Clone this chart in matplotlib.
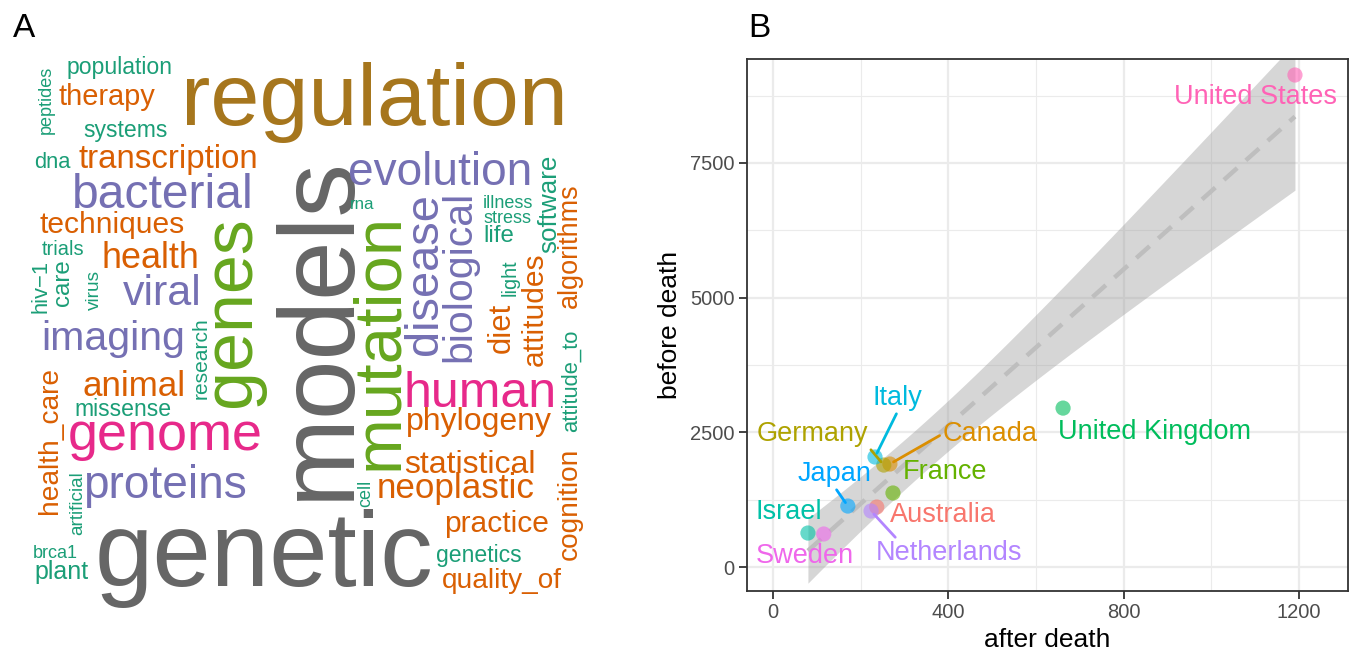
import numpy as np
import matplotlib.pyplot as plt

plt.rcParams['font.family'] = ['Liberation Sans', 'DejaVu Sans']

# ---------------- panel A: word cloud data ----------------
words = ['models', 'genetic', 'regulation', 'genes', 'mutation', 'genome', 'human',
         'bacterial', 'proteins', 'disease', 'evolution', 'viral', 'biological', 'imaging',
         'health', 'neoplastic', 'animal', 'transcription', 'statistical', 'phylogeny',
         'techniques', 'diet', 'practice', 'attitudes', 'therapy', 'health_care',
         'cognition', 'quality_of', 'algorithms', 'software', 'plant', 'life', 'care',
         'population', 'missense', 'genetics', 'systems', 'dna', 'hiv\u22121',
         'attitude_to', 'research', 'trials', 'light', 'virus', 'artificial', 'peptides',
         'stress', 'illness', 'cell', 'brca1', 'rna']
freq = [107, 105, 88, 70, 67, 54, 50, 48, 46, 47, 46, 43, 41, 41, 36, 35, 35, 33, 32, 32,
        30, 31, 30, 30, 29, 28, 28, 28, 27, 26, 25, 24, 24, 23, 23, 23, 23, 22, 22, 22, 21,
        20, 20, 19, 19, 18, 18, 18, 18, 18, 17]

# layout of the cloud (figure pixels: x, baseline y, rotation)
word_xy = {
    'population': (120, 74, 0), 'therapy': (107, 105, 0), 'systems': (126, 137, 0),
    'dna': (52, 168, 0), 'transcription': (168, 168, 0), 'bacterial': (163, 208, 0),
    'techniques': (112, 233, 0), 'trials': (63, 255, 0), 'health': (150, 268, 0),
    'viral': (162, 305, 0), 'imaging': (113, 350, 0), 'animal': (134, 396, 0),
    'missense': (123, 416, 0), 'genome': (165, 450, 0), 'proteins': (165, 498, 0),
    'brca1': (55, 558, 0), 'plant': (62, 579, 0), 'genetic': (264, 586, 0),
    'regulation': (374, 125, 0), 'evolution': (440, 185, 0), 'rna': (362, 209, 0),
    'illness': (508, 208, 0), 'stress': (508, 223, 0), 'life': (499, 242, 0),
    'human': (480, 407, 0), 'phylogeny': (479, 430, 0), 'statistical': (470, 473, 0),
    'neoplastic': (456, 498, 0), 'practice': (497, 532, 0), 'genetics': (479, 562, 0),
    'quality_of': (502, 588, 0),
    'peptides': (51, 100, 90), 'hiv\u22121': (46, 286, 90), 'care': (69, 283, 90),
    'virus': (99, 290, 90), 'genes': (250, 312, 90), 'research': (207, 358, 90),
    'health_care': (57, 440, 90), 'artificial': (82, 503, 90), 'models': (348, 328, 90),
    'mutation': (397, 341, 90), 'disease': (437, 274, 90), 'biological': (470, 276, 90),
    'software': (556, 204, 90), 'algorithms': (577, 246, 90), 'light': (516, 278, 90),
    'attitudes': (543, 309, 90), 'diet': (510, 328, 90), 'attitude_to': (577, 381, 90),
    'cell': (370, 493, 90), 'cognition': (577, 504, 90),
}

dark2 = {'teal': '#1B9E77', 'orange': '#D95F02', 'purple': '#7570B3', 'pink': '#E7298A',
         'green': '#66A61E', 'brown': '#A6761D', 'gray': '#666666'}
word_col = {'models': 'gray', 'genetic': 'gray', 'regulation': 'brown', 'genes': 'green',
            'mutation': 'green', 'genome': 'pink', 'human': 'pink'}
for w in ['bacterial', 'proteins', 'disease', 'evolution', 'viral', 'biological', 'imaging']:
    word_col[w] = 'purple'
for w in ['health', 'neoplastic', 'animal', 'transcription', 'statistical', 'phylogeny',
          'techniques', 'diet', 'practice', 'attitudes', 'therapy', 'health_care',
          'cognition', 'quality_of', 'algorithms']:
    word_col[w] = 'orange'

# ---------------- panel B: scatter data ----------------
countries = ['Australia', 'Canada', 'Germany', 'France', 'United Kingdom', 'Israel',
             'Italy', 'Japan', 'Netherlands', 'Sweden', 'United States']
after_death = np.array([237, 267, 253, 274, 662, 80, 233, 171, 224, 116, 1191])
before_death = np.array([1114, 1912, 1893, 1374, 2950, 631, 2042, 1132, 1040, 613, 9133])
hue = ['#F8766D', '#DB8E00', '#AEA200', '#64B200', '#00BD5C', '#00C1A7',
       '#00BADE', '#00A6FF', '#B385FF', '#EF67EB', '#FF63B6']

# repelled label positions (data units) and where the segment leaves the label
label_pos = {
    'Australia': (388, 965, None), 'Canada': (495, 2469, (0, 0.5)),
    'Germany': (91, 2469, (1, 0)), 'France': (392, 1763, None),
    'United Kingdom': (871, 2506, None), 'Israel': (36, 1021, None),
    'Italy': (285, 3137, (0.5, 0)), 'Japan': (141, 1726, (0.5, 0)),
    'Netherlands': (402, 260, (0.15, 1)), 'Sweden': (73, 204, None),
    'United States': (1102, 8725, None),
}

W, H = 1354, 653
fig = plt.figure(figsize=(W / 100, H / 100), dpi=100)

# word cloud on a pixel canvas
ax0 = fig.add_axes([0, 0, 1, 1])
ax0.set_xlim(0, W)
ax0.set_ylim(H, 0)
ax0.axis('off')
for w, f in zip(words, freq):
    x, y, rot = word_xy[w]
    ax0.text(x, y, w, fontsize=f * 0.72, rotation=rot, rotation_mode='anchor',
             ha='center', va='baseline', color=dark2[word_col.get(w, 'teal')])

ax0.text(13, 37, 'A', fontsize=24, ha='left', va='baseline')
ax0.text(748, 37, 'B', fontsize=24, ha='left', va='baseline')

# scatter panel
ax = fig.add_axes([747 / W, (H - 591) / H, 601 / W, 532 / H])
ax.set_xlim(-59, 1312)
ax.set_ylim(-445, 9430)

# linear fit with 95% band
n = len(after_death)
b1, b0 = np.polyfit(after_death, before_death, 1)
resid = before_death - (b0 + b1 * after_death)
sigma = np.sqrt(np.sum(resid ** 2) / (n - 2))
sxx = np.sum((after_death - after_death.mean()) ** 2)
xs = np.linspace(after_death.min(), after_death.max(), 80)
fit = b0 + b1 * xs
se = sigma * np.sqrt(1 / n + (xs - after_death.mean()) ** 2 / sxx)
t975 = 2.262
ax.fill_between(xs, fit - t975 * se, fit + t975 * se, color='#999999', alpha=0.4,
                lw=0, zorder=2)
ax.plot(xs, fit, color='#BEBEBE', lw=3.2, ls=(0, (4, 2.6)), zorder=3)

ax.scatter(after_death, before_death, s=120, c=hue, alpha=0.6, lw=0, zorder=4)

for i, name in enumerate(countries):
    lx, ly, rel = label_pos[name]
    if rel is None:
        ax.text(lx, ly, name, fontsize=19.5, color=hue[i], ha='center', va='center',
                zorder=5)
    else:
        ax.annotate(name, xy=(after_death[i], before_death[i]), xytext=(lx, ly),
                    fontsize=19.5, color=hue[i], ha='center', va='center', zorder=5,
                    arrowprops=dict(arrowstyle='-', color=hue[i], lw=2, relpos=rel,
                                    shrinkA=0, shrinkB=3))

ax.set_xticks([0, 400, 800, 1200])
ax.set_xticks([200, 600, 1000], minor=True)
ax.set_yticks([0, 2500, 5000, 7500])
ax.set_yticks([1250, 3750, 6250, 8750], minor=True)
ax.grid(which='major', color='#EBEBEB', lw=1.6, zorder=0)
ax.grid(which='minor', color='#EBEBEB', lw=0.8, zorder=0)
ax.set_axisbelow(True)
for s in ax.spines.values():
    s.set_color('#333333')
    s.set_linewidth(1.3)
ax.tick_params(which='major', length=6, width=1.3, color='#333333', labelsize=14.5,
               labelcolor='#4D4D4D', pad=3)
ax.tick_params(which='minor', length=0)
ax.set_xlabel('after death', fontsize=19, labelpad=4)
ax.set_ylabel('before death', fontsize=19, labelpad=6)

fig.savefig('out.png', dpi=100)
